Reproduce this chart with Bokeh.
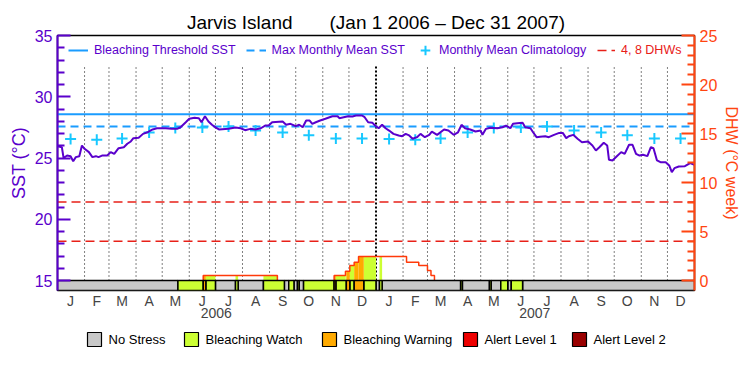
import pandas as pd
from bokeh.plotting import figure
from bokeh.layouts import column
from bokeh.models import Range1d, LinearAxis, FixedTicker, Legend, LegendItem, ColumnDataSource
from bokeh.core.properties import value
from bokeh.embed import file_html
from bokeh.resources import INLINE

# ---------------- data ----------------
start_date = "2006-01-01"
end_date = "2008-01-01"

# SST (deg C), days since Jan 1 2006
sst_day = [0, 5, 7, 11, 15, 18, 21, 25, 28, 31, 36, 40, 44, 47, 51, 57, 61, 65, 70, 76,
           80, 84, 87, 93, 98, 103, 109, 114, 124, 131, 137, 141, 147, 151, 157, 162, 165, 169, 173, 177,
           181, 185, 196, 204, 210, 215, 221, 227, 233, 238, 242, 246, 258, 262, 267, 273, 277, 281, 285, 289,
           292, 296, 301, 307, 315, 321, 323, 328, 333, 338, 342, 349, 352, 356, 361, 364, 368, 372, 376, 380,
           385, 391, 395, 399, 403, 407, 412, 416, 421, 426, 429, 435, 443, 448, 454, 459, 463, 467, 473, 479,
           485, 487, 491, 496, 504, 510, 514, 519, 522, 527, 533, 536, 542, 545, 549, 553, 559, 563, 569, 575,
           579, 583, 586, 591, 596, 601, 608, 613, 617, 621, 626, 630, 632, 636, 641, 646, 650, 655, 659, 663,
           667, 671, 676, 680, 683, 687, 691, 697, 701, 704, 707, 712, 719, 725, 730]
sst_val = [25.96, 25.88, 25.0, 25.2, 25.15, 24.74, 25.07, 25.15, 26.02, 25.75, 25.48, 25.07, 25.15, 25.07, 25.2, 25.2, 25.48, 25.34, 25.8, 25.88,
           26.16, 26.35, 26.62, 26.65, 26.97, 27.1, 27.33, 27.43, 27.43, 27.38, 27.38, 27.51, 27.92, 28.2, 28.28, 28.25, 27.92, 28.41, 27.98, 27.71,
           27.5, 27.33, 27.38, 27.49, 27.43, 27.27, 27.38, 27.33, 27.43, 27.65, 27.65, 27.92, 27.98, 27.71, 27.79, 27.6, 27.71, 27.51, 28.06, 28.06,
           27.79, 27.92, 28.06, 28.2, 28.41, 28.41, 28.25, 28.33, 28.41, 28.39, 28.47, 28.47, 28.33, 27.92, 27.87, 27.65, 27.43, 27.71, 27.43, 27.24,
           26.97, 26.84, 26.78, 26.97, 26.84, 26.57, 26.7, 26.97, 26.7, 26.89, 27.16, 26.89, 27.33, 27.24, 26.89, 27.1, 27.71, 27.43, 27.33, 27.16,
           27.24, 26.89, 27.38, 27.47, 27.43, 27.51, 27.65, 27.43, 27.79, 27.84, 27.87, 27.51, 27.43, 27.1, 26.7, 26.74, 26.78, 26.7, 26.89, 27.05,
           27.05, 26.62, 26.78, 26.89, 26.57, 26.29, 26.35, 26.02, 25.61, 25.88, 26.24, 26.02, 24.85, 24.8, 25.15, 25.48, 25.34, 26.08, 26.08, 25.34,
           25.2, 25.26, 25.15, 25.88, 25.8, 24.8, 24.66, 24.66, 24.39, 23.84, 24.17, 24.31, 24.33, 24.58, 24.44]

# Monthly mean climatology (Jan..Dec)
clim_val = [26.55, 26.5, 26.6, 27.08, 27.45, 27.5, 27.57, 27.24, 27.08, 26.86, 26.6, 26.6]
mmm = 27.57                 # max monthly mean SST
threshold = mmm + 1.0       # bleaching threshold SST
dhw_levels = [4, 8]

# Degree heating weeks (step function, value holds from day until next day)
dhw_day = [0, 167, 252, 317, 330, 335, 340, 345, 400, 414, 424, 428, 432]
dhw_val = [0, 0.5, 0, 0.5, 0.95, 1.53, 1.87, 2.45, 1.87, 1.53, 1.02, 0.5, 0]

# Stress level segments (start day, level); 0 none, 1 watch, 2 warning, 3 alert1, 4 alert2
stress_start = [0, 138, 167, 170, 181, 204, 207, 236, 260, 265, 271, 275, 277, 282, 317, 319,
                331, 335, 340, 351, 365, 369, 372, 462, 464, 495, 497, 508, 516, 520, 533]
stress_level = [0, 1, 2, 1, 0, 1, 0, 1, 0, 1, 0, 1, 0, 1, 2, 1,
                2, 1, 2, 1, 0, 1, 0, 1, 0, 1, 0, 1, 0, 1, 0]
level_names = ["No Stress", "Bleaching Watch", "Bleaching Warning", "Alert Level 1", "Alert Level 2"]
level_colors = ["#c8c8c8", "#ccff33", "#ffaa00", "#ee0000", "#990000"]

month_letters = list("JFMAMJJASOND") * 2
year_labels = ["2006", "2007"]

# ---------------- derived positions ----------------
t0 = pd.Timestamp(start_date)
total_days = (pd.Timestamp(end_date) - t0).days
mstarts = [(d - t0).days for d in pd.date_range(start_date, end_date, freq="MS")]
mid_ticks = [int((mstarts[i] + mstarts[i + 1]) / 2) for i in range(24)]
year_ticks = [int((mstarts[0] + mstarts[12]) / 2), int((mstarts[12] + mstarts[24]) / 2)]

PURPLE = "#5a00cc"
ORANGE = "#ff4510"
BLUE = "#1a9cff"
CYAN = "#18c8ff"
REDD = "#e82018"
DHWC = "#ff3a0a"
FONT = "Liberation Sans"

SST_LO, SST_HI = 14.184, 35.0
DHW_LO, DHW_HI = -1.0204, 25.0

FRAME_W = 637
B_LEFT, B_RIGHT = 57, 50
W = B_LEFT + FRAME_W + B_RIGHT
P_H = 330
L_H = 29

p = figure(width=W, height=P_H, x_range=Range1d(0, total_days), y_range=Range1d(SST_LO, SST_HI),
           output_backend="svg", toolbar_location=None,
           min_border_left=B_LEFT, min_border_right=B_RIGHT, min_border_top=35, min_border_bottom=40)
p.extra_y_ranges = {"dhw": Range1d(DHW_LO, DHW_HI)}
p.grid.visible = False
p.outline_line_color = "black"
p.outline_line_width = 1.5
p.background_fill_color = "white"

p.title.text = "Jarvis Island" + "\u00a0" * 7 + "(Jan 1 2006 \u2013 Dec 31 2007)"
p.title.align = "center"
p.title.text_font = FONT
p.title.text_font_size = "19px"
p.title.text_font_style = "normal"
p.title.text_color = "black"
p.title.standoff = 6

# month dotted lines
others = [m for m in mstarts[1:24] if m != mstarts[12]]
p.segment(x0=others, x1=others, y0=[15] * len(others), y1=[32.55] * len(others),
          line_color="black", line_width=1, line_dash="1 3")
p.segment(x0=[mstarts[12]], x1=[mstarts[12]], y0=[15], y1=[32.55],
          line_color="black", line_width=2, line_dash="2 2")

# DHW reference lines
r_dhwref = p.multi_line(xs=[[0, total_days]] * len(dhw_levels), ys=[[v, v] for v in dhw_levels],
                        y_range_name="dhw", line_color=REDD, line_width=1.5, line_dash="9 5")

# threshold & MMM
r_thr = p.line(x=[0, total_days], y=[threshold, threshold], line_color=BLUE, line_width=2)
r_mmm = p.line(x=[0, total_days], y=[mmm, mmm], line_color=BLUE, line_width=2, line_dash="8 5")

# climatology crosses at mid months
clim_x = mid_ticks
clim_y = clim_val * 2
r_clim = p.scatter(x=clim_x, y=clim_y, marker="cross", size=11, line_width=2, color=CYAN)

# SST line
p.line(x=sst_day, y=sst_val, line_color=PURPLE, line_width=2)

# stress fill under DHW curve
stress_end = stress_start[1:] + [total_days]
fills = {k: dict(left=[], right=[], top=[]) for k in range(5)}
dhw_end = dhw_day[1:] + [total_days]
for s, e, lv in zip(stress_start, stress_end, stress_level):
    if lv == 0:
        continue
    for a, b, v in zip(dhw_day, dhw_end, dhw_val):
        lo, hi = max(s, a), min(e, b)
        if v > 0 and hi > lo:
            fills[lv]["left"].append(lo)
            fills[lv]["right"].append(hi)
            fills[lv]["top"].append(v)
for lv in range(1, 5):
    d = fills[lv]
    p.quad(left=d["left"], right=d["right"], top=d["top"], bottom=[0] * len(d["left"]),
           y_range_name="dhw", fill_color=level_colors[lv], line_color=None)

# DHW step line
xs_paths, ys_paths = [], []
px, py = [], []
prev = 0
for dd, v in zip(dhw_day, dhw_val):
    if v > 0 or prev > 0:
        if not px:
            px, py = [dd], [0]
        else:
            px.append(dd)
            py.append(prev)
        px.append(dd)
        py.append(v)
        if v == 0:
            xs_paths.append(px)
            ys_paths.append(py)
            px, py = [], []
    prev = v
p.multi_line(xs=xs_paths, ys=ys_paths, y_range_name="dhw", line_color=DHWC, line_width=1.5)

# stress bar
for lv in range(5):
    L = [s for s, l in zip(stress_start, stress_level) if l == lv]
    R = [e for e, l in zip(stress_end, stress_level) if l == lv]
    src = ColumnDataSource(dict(left=L, right=R, top=[15] * len(L), bottom=[SST_LO] * len(L)))
    p.quad(left="left", right="right", top="top", bottom="bottom", source=src,
           fill_color=level_colors[lv], line_color="black", line_width=1.5)

# ---------------- axes ----------------
def style_y(ax, color, label, label_size):
    for prop in ("axis_line_color", "major_tick_line_color", "minor_tick_line_color",
                 "major_label_text_color", "axis_label_text_color"):
        setattr(ax, prop, color)
    ax.axis_label = label
    ax.axis_line_width = 2
    ax.major_tick_line_width = 2
    ax.minor_tick_line_width = 2
    ax.major_tick_in = 13
    ax.major_tick_out = 0
    ax.minor_tick_in = 7
    ax.minor_tick_out = 0
    ax.major_label_text_font = FONT
    ax.major_label_text_font_size = "16px"
    ax.major_label_standoff = 5
    ax.axis_label_text_font = FONT
    ax.axis_label_text_font_size = label_size
    ax.axis_label_text_font_style = "normal"
    ax.axis_label_standoff = 3

ya = p.yaxis[0]
ya.ticker = FixedTicker(ticks=[15, 20, 25, 30, 35],
                        minor_ticks=[v for v in range(15, 36) if v % 5 != 0])
style_y(ya, PURPLE, "SST (\u00b0C)", "18px")

ra = LinearAxis(y_range_name="dhw")
ra.ticker = FixedTicker(ticks=[0, 5, 10, 15, 20, 25],
                        minor_ticks=[v for v in range(0, 26) if v % 5 != 0])
style_y(ra, ORANGE, "DHW (\u00b0C week)", "16px")
p.add_layout(ra, "right")

xa = p.xaxis[0]
xa.ticker = FixedTicker(ticks=mid_ticks, minor_ticks=[])
xa.major_label_overrides = {t: l for t, l in zip(mid_ticks, month_letters)}
xa.axis_line_color = None
xa.major_tick_line_color = None
xa.minor_tick_line_color = None
xa.major_label_text_font = FONT
xa.major_label_text_font_size = "14px"
xa.major_label_standoff = -4

xa2 = LinearAxis()
xa2.ticker = FixedTicker(ticks=year_ticks, minor_ticks=[])
xa2.major_label_overrides = {t: l for t, l in zip(year_ticks, year_labels)}
xa2.axis_line_color = None
xa2.major_tick_line_color = None
xa2.minor_tick_line_color = None
xa2.major_label_text_font = FONT
xa2.major_label_text_font_size = "14px"
xa2.major_label_standoff = -10
p.add_layout(xa2, "below")

# ---------------- legends ----------------
def top_legend(items, loc, color, gw, gh, standoff):
    return Legend(items=items, location=loc, orientation="horizontal",
                  label_text_font=FONT, label_text_font_size="12.5px", label_text_color=color,
                  glyph_width=gw, glyph_height=gh, label_height=gh, label_standoff=standoff,
                  spacing=10, padding=0, margin=0, border_line_color=None, background_fill_alpha=0)

leg1 = top_legend([LegendItem(label="Bleaching Threshold SST", renderers=[r_thr]),
                   LegendItem(label="Max Monthly Mean SST", renderers=[r_mmm])],
                  (11, 233), PURPLE, 20, 14, 6)
leg1b = top_legend([LegendItem(label="Monthly Mean Climatology", renderers=[r_clim])],
                   (356, 228), PURPLE, 24, 24, 2)
leg2 = top_legend([LegendItem(label="4, 8 DHWs", renderers=[r_dhwref])],
                  (540, 233), REDD, 18, 14, 6)
for lg in (leg1, leg1b, leg2):
    p.add_layout(lg, "center")

# stress legend strip below the chart (x in pixels from the chart frame's left edge)
box_left = [30, 127, 265, 406, 515]
box_size = 14
text_gap = 21
q = figure(width=W, height=L_H, x_range=Range1d(0, FRAME_W), y_range=Range1d(0, L_H),
           output_backend="svg", toolbar_location=None, x_axis_type=None, y_axis_type=None,
           min_border_left=B_LEFT, min_border_right=B_RIGHT, min_border_top=0, min_border_bottom=0)
q.grid.visible = False
q.outline_line_color = None
row_y = L_H - 9
q.rect(x=[b + box_size / 2 for b in box_left], y=[row_y] * 5, width=box_size, height=box_size,
       fill_color=level_colors, line_color="black", line_width=1.2)
q.text(x=[b + text_gap for b in box_left], y=[row_y] * 5, text=level_names,
       text_font=value(FONT), text_font_size="13px", text_baseline="middle", text_color="black")

layout = column(p, q, spacing=0)
open("out.html", "w").write(file_html(layout, INLINE))
